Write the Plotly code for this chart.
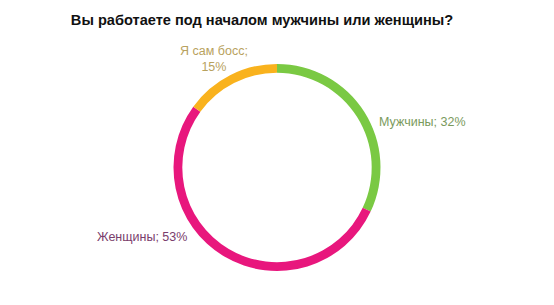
import math
import plotly.graph_objects as go

categories = ["Мужчины", "Женщины", "Я сам босс"]
values = [32, 53, 15]
label_texts = ["Мужчины; 32%", "Женщины; 53%", "Я сам босс;<br>15%"]

slice_colors = ["#7ac943", "#e8177d", "#f9b21d"]
text_colors = ["#7a9a5c", "#7a3d6c", "#b8a25e"]

W, H = 554, 305
cx, cy, R = 277, 167.5, 103.5

fig = go.Figure(go.Pie(
    labels=categories, values=values, sort=False, direction="clockwise", rotation=0,
    hole=0.915, marker=dict(colors=slice_colors, line=dict(width=0)),
    textinfo="none", hoverinfo="label+percent", showlegend=False,
    domain=dict(x=[(cx - R) / W, (cx + R) / W], y=[(H - cy - R) / H, (H - cy + R) / H]),
))

offsets = [(13, 10, "left"), (-35, -20, "right"), (-16, -16, "center")]
total = sum(values)
cum = 0
annotations = []
for v, t, col, (dx, dy, xa) in zip(values, label_texts, text_colors, offsets):
    mid = (cum + v / 2) / total * 2 * math.pi
    cum += v
    px = cx + R * math.sin(mid) + dx
    py = cy - R * math.cos(mid) + dy
    annotations.append(dict(
        x=px / W, y=1 - py / H, xref="paper", yref="paper", text=t, showarrow=False,
        xanchor=xa, yanchor="middle", align="center",
        font=dict(family="Liberation Sans, Arial, sans-serif", size=12.5, color=col),
    ))

fig.update_layout(
    width=W, height=H, margin=dict(l=0, r=0, t=0, b=0),
    paper_bgcolor="white", plot_bgcolor="white",
    title=dict(text="<b>Вы работаете под началом мужчины или женщины?</b>",
               x=262 / W, xanchor="center", y=1 - 20 / H, yanchor="middle",
               font=dict(family="Liberation Sans, Arial, sans-serif", size=14.6, color="#111111")),
    annotations=annotations,
)

fig.write_html("out.html")
